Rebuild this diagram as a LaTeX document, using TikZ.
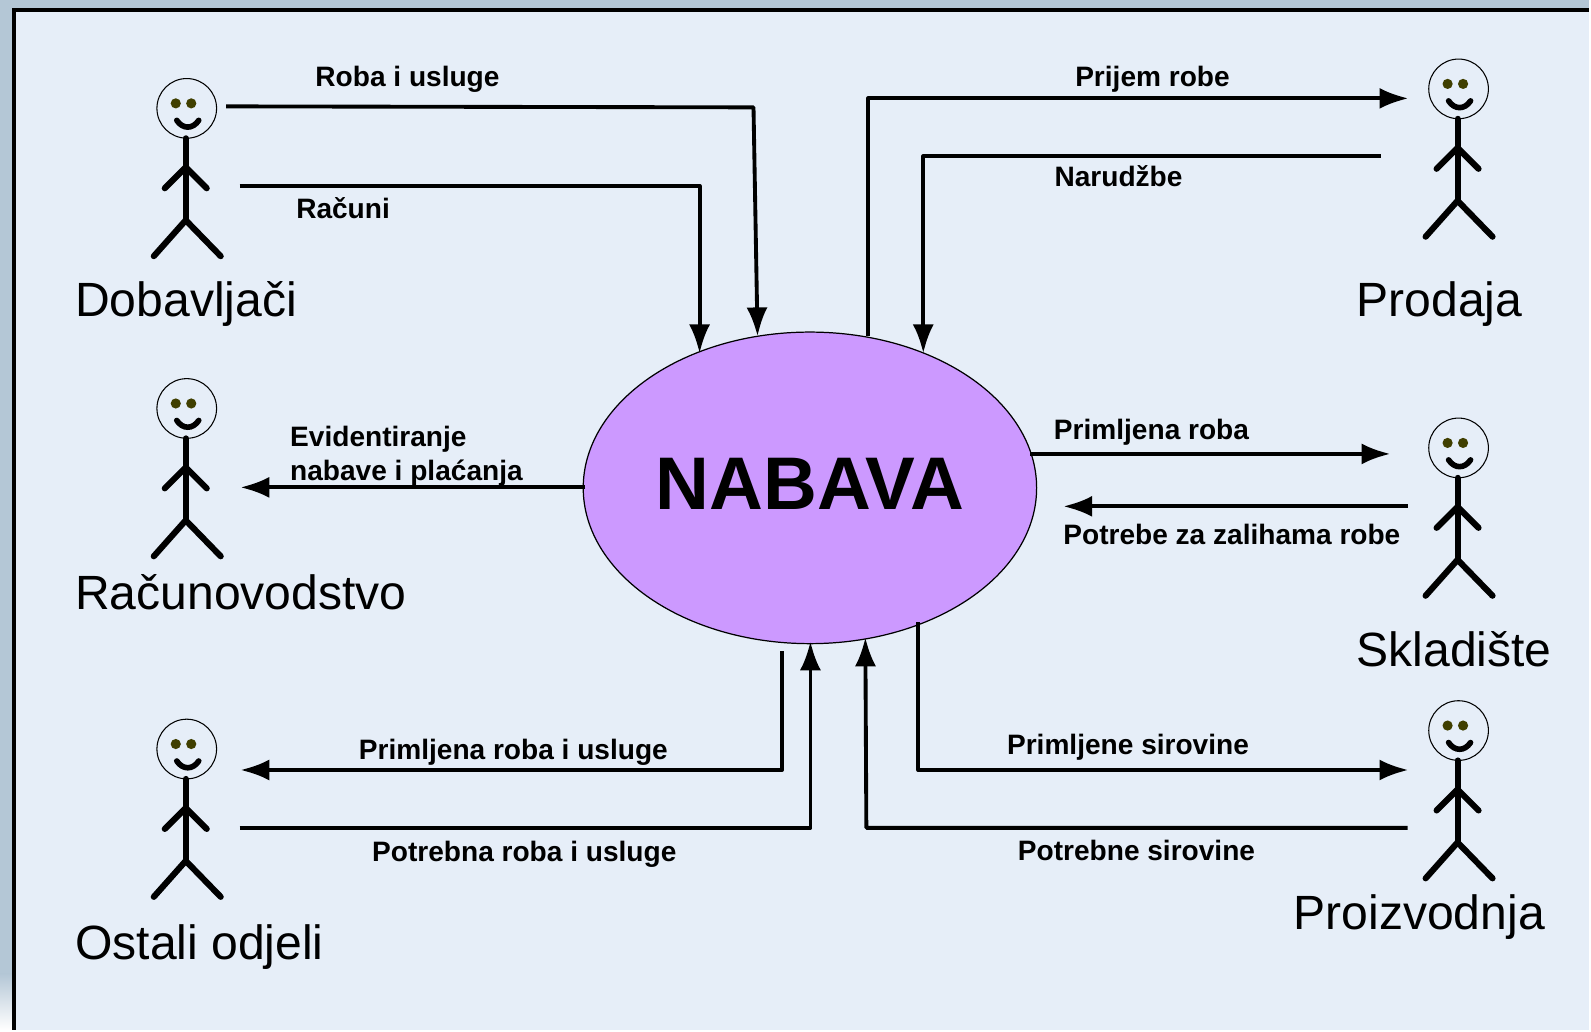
\documentclass[tikz,border=0pt]{standalone}
\usepackage{fontspec}
\setmainfont{Liberation Sans}
\usetikzlibrary{arrows.meta,shapes.geometric}
\definecolor{panel}{HTML}{E6EEF8}
\definecolor{strip}{HTML}{B4C7D6}
\definecolor{eye}{HTML}{403F00}
\definecolor{purple}{HTML}{CC99FF}

\begin{document}
\begin{tikzpicture}[
            x=0.02cm,y=-0.02cm,
            flow/.style={draw,-{Latex[length=16.5pt,width=12pt]},line width=2.2pt,line join=round,shorten >=-1.6pt},
            lab/.style={font=\fontsize{16}{19.6}\selectfont\bfseries,inner sep=0,align=left},
            actorname/.style={font=\fontsize{27.4}{30}\selectfont,anchor=base west,inner sep=0},
            stick/.style={draw,line width=3.5pt,line cap=round},
            actor/.pic={
              \node[circle,draw,line width=.6pt,minimum size=34pt,inner sep=0] (-head) at (0,0) {};
              \fill[eye] (-11,-5) circle (2.9pt) (4.5,-5) circle (2.9pt);
              \draw[stick,line width=3.2pt] (-10,12) .. controls (-4,21) and (6,21) .. (12,12);
              \draw[stick] (-1,30) -- (-1,112);
              \draw[stick] (-22,80) -- (-1,59) -- (20,80);
              \draw[stick] (-33,148) -- (-1,112) -- (34,148);
            }
          ]
          %background
          \fill[strip] (0,0) rectangle (1591,1031);
          \shade[top color=strip,bottom color=white] (0,975) rectangle (14,1031);
          \fill[panel] (14,10) rectangle (1591,1031);
          \draw[line width=2.4pt] (14,1031) -- (14,10) -- (1591,10);
          \useasboundingbox (0,0) rectangle (1591,1031);

          \node[ellipse,draw,fill=purple,line width=.7pt,minimum width=454*0.02cm,minimum height=312*0.02cm,inner sep=0] (nabava) at (811,488.5) {};
          \node[font=\fontsize{42.5}{48}\selectfont\bfseries,inner sep=0] (nabavatext) at (811,484) {NABAVA};

          %actors
          \pic (dob) at (187,108.5) {actor};
          \pic (rac) at (187,409) {actor};
          \pic (ost) at (187,750) {actor};
          \pic (pro) at (1460.5,89) {actor};
          \pic (skl) at (1460.5,448.5) {actor};
          \pic (prz) at (1460.5,731.5) {actor};
          \node[actorname] (ndob) at (75,317) {Dobavljači};
          \node[actorname] (nrac) at (75,610) {Računovodstvo};
          \node[actorname] (nost) at (75,960.5) {Ostali odjeli};
          \node[actorname] (npro) at (1358,317) {Prodaja};
          \node[actorname] (nskl) at (1358,667) {Skladište};
          \node[actorname] (nprz) at (1295,930.5) {Proizvodnja};

          %ends of the flows
          \coordinate (roba0) at (226.5,106.5);
          \coordinate (roba1) at (754.5,107.5);
          \coordinate (roba2) at (758.5,334);
          \coordinate (racun0) at (240,186);
          \coordinate (racun1) at (700.5,186);
          \coordinate (racun2) at (700.5,351);
          \coordinate (prijem0) at (869.5,336);
          \coordinate (prijem1) at (869.5,98.5);
          \coordinate (prijem2) at (1407.5,98.5);
          \coordinate (narud0) at (1382.5,156.5);
          \coordinate (narud1) at (924.5,156.5);
          \coordinate (narud2) at (924.5,351);
          \coordinate (prim0) at (1031.5,454.5);
          \coordinate (prim1) at (1389.5,454.5);
          \coordinate (potr0) at (1409.5,507);
          \coordinate (potr1) at (1067.5,507);
          \coordinate (evid0) at (586,488);
          \coordinate (evid1) at (243.5,488);
          \coordinate (pru0) at (783,652);
          \coordinate (pru1) at (783,771);
          \coordinate (pru2) at (243.5,771);
          \coordinate (pou0) at (240,829);
          \coordinate (pou1) at (811.5,829);
          \coordinate (pou2) at (811.5,645);
          \coordinate (pos0) at (1409.5,829);
          \coordinate (pos1) at (867.5,829);
          \coordinate (pos2) at (866.5,641);
          \coordinate (prs0) at (919.5,623);
          \coordinate (prs1) at (919.5,771);
          \coordinate (prs2) at (1407.5,771);

          %flows
          \draw[flow] (roba0) -- (roba1) -- (roba2);
          \draw[flow] (racun0) -- (racun1) -- (racun2);
          \draw[flow] (prijem0) -- (prijem1) -- (prijem2);
          \draw[flow] (narud0) -- (narud1) -- (narud2);
          \draw[flow] (prim0) -- (prim1);
          \draw[flow] (potr0) -- (potr1);
          \draw[flow] (evid0) -- (evid1);
          \draw[flow] (pru0) -- (pru1) -- (pru2);
          \draw[flow] (pou0) -- (pou1) -- (pou2);
          \draw[flow] (pos0) -- (pos1) -- (pos2);
          \draw[flow] (prs0) -- (prs1) -- (prs2);

          %labels
          \node[lab] (lroba) at (408,79) {Roba i usluge};
          \node[lab] (lracun) at (343.5,208) {Računi};
          \node[lab] (lprijem) at (1154,79) {Prijem robe};
          \node[lab] (lnarud) at (1120,176) {Narudžbe};
          \node[lab] (lprim) at (1153,433) {Primljena roba};
          \node[lab] (lpotr) at (1233.5,535) {Potrebe za zalihama robe};
          \node[lab] (levid) at (407,457) {Evidentiranje\\nabave i plaćanja};
          \node[lab] (lpru) at (514,753) {Primljena roba i usluge};
          \node[lab] (lpou) at (525,855) {Potrebna roba i usluge};
          \node[lab] (lprs) at (1129.5,748) {Primljene sirovine};
          \node[lab] (lpos) at (1138,852) {Potrebne sirovine};
      \end{tikzpicture}
\end{document}
